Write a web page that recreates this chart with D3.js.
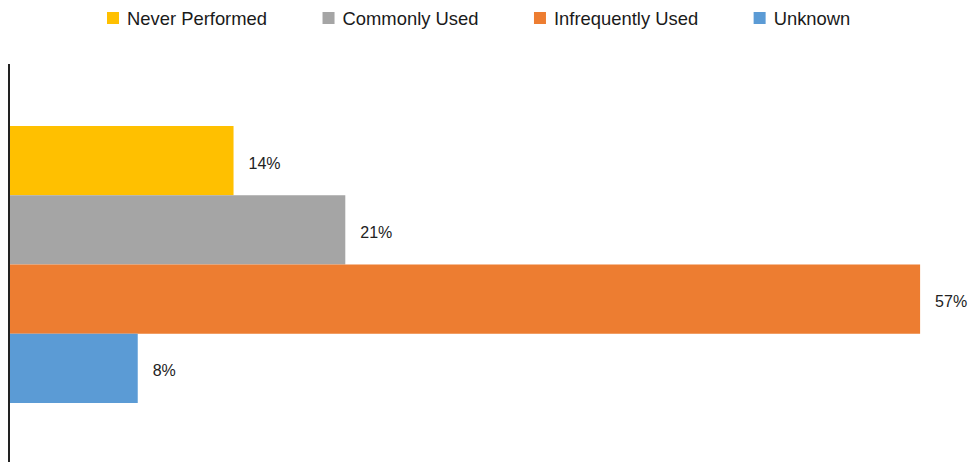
<!DOCTYPE html>
<html>
<head>
<meta charset="utf-8">
<script src="https://cdn.jsdelivr.net/npm/d3@7"></script>
<style>
  html, body { margin: 0; padding: 0; background: #fff; }
  svg { display: block; font-family: "Liberation Sans", Arial, Helvetica, sans-serif; }
</style>
</head>
<body>
<svg id="chart" width="969" height="462"></svg>
<script>
// Survey responses, one bar per answer
const seriesNames = ["Never Performed", "Commonly Used", "Infrequently Used", "Unknown"];
const seriesValues = [14, 21, 57, 8];
const seriesColors = ["#FFC000", "#A5A5A5", "#ED7D31", "#5B9BD5"];

const width = 969, height = 462;
const svg = d3.select("#chart");

const x = d3.scaleLinear().domain([0, 60]).range([10, 968]);
const y = d3.scaleBand().domain(seriesNames).range([126, 403]).padding(0);

// Bars
svg.append("g").selectAll("rect")
  .data(seriesNames)
  .join("rect")
  .attr("x", x(0))
  .attr("y", d => y(d))
  .attr("width", (d, i) => x(seriesValues[i]) - x(0))
  .attr("height", y.bandwidth())
  .attr("fill", (d, i) => seriesColors[i]);

// Value labels
svg.append("g").selectAll("text")
  .data(seriesNames)
  .join("text")
  .attr("x", (d, i) => x(seriesValues[i]) + 15)
  .attr("y", d => y(d) + y.bandwidth() / 2)
  .attr("dy", "0.5em")
  .attr("font-size", 16)
  .attr("fill", "#222")
  .text((d, i) => seriesValues[i] + "%");

// Category axis line
svg.append("line")
  .attr("x1", 9).attr("x2", 9)
  .attr("y1", 64).attr("y2", height)
  .attr("stroke", "#222")
  .attr("stroke-width", 2);

// Legend across the top
const legend = svg.append("g");
const items = legend.selectAll("g")
  .data(seriesNames)
  .join("g");
items.append("rect")
  .attr("width", 12).attr("height", 12)
  .attr("y", 12)
  .attr("fill", (d, i) => seriesColors[i]);
items.append("text")
  .attr("x", 20)
  .attr("y", 25)
  .attr("font-size", 18.4)
  .attr("fill", "#1a1a1a")
  .text(d => d);

let cursor = 107;
items.each(function () {
  const g = d3.select(this);
  g.attr("transform", `translate(${cursor},0)`);
  const w = g.select("text").node().getComputedTextLength();
  cursor += 20 + w + 55.5;
});
</script>
</body>
</html>
